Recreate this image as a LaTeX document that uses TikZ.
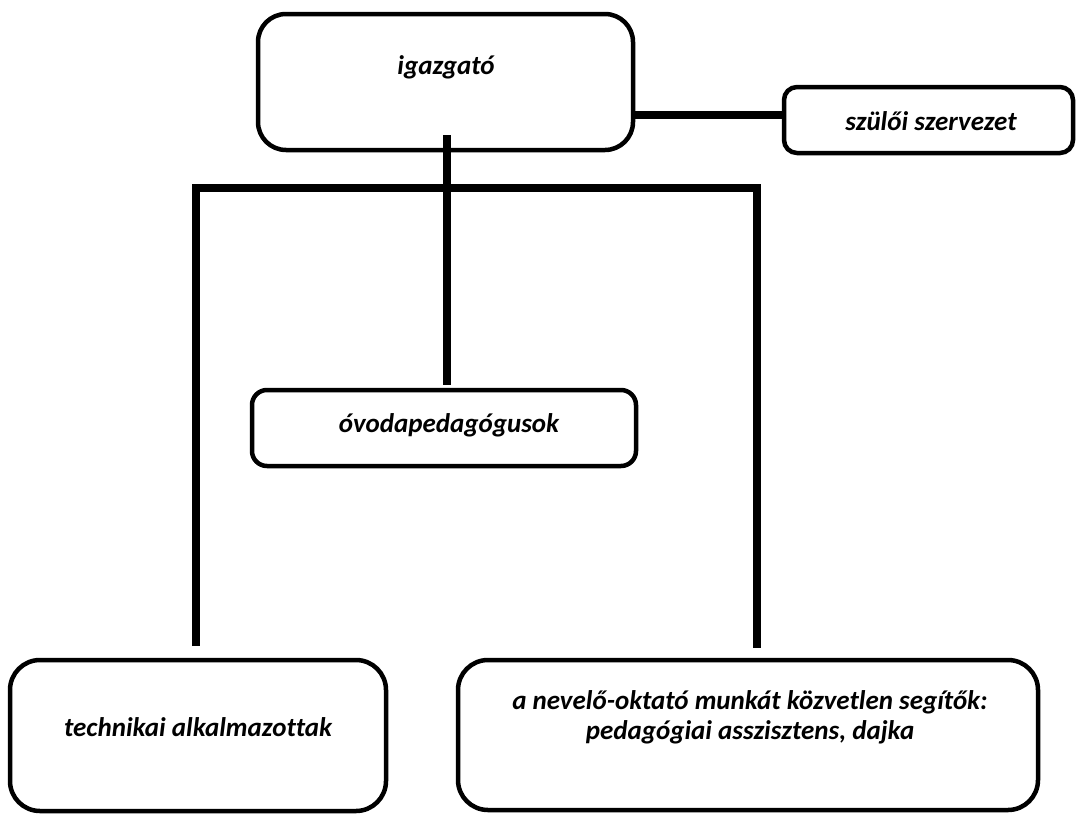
\documentclass[tikz,border=0pt]{standalone}
\usepackage{fontspec}
\setmainfont{Carlito}[Ligatures=NoCommon]
\tikzset{
  box/.style={draw=black, line width=4.5pt, fill=white, inner sep=0pt},
  lbl/.style={font=\fontsize{27}{30}\selectfont\bfseries\itshape, align=center, inner sep=0pt},
  conn/.style={draw=black, line width=7.5pt, line cap=butt, line join=miter},
}
\begin{document}
\begin{tikzpicture}[x=1pt,y=-1pt]
\useasboundingbox (0,0) rectangle (1076,814);
\coordinate (ctop) at (447,135);
\coordinate (lbar) at (196,188);
\coordinate (rbar) at (757,188);
\coordinate (lend) at (196,646);
\coordinate (rend) at (757,648);
\coordinate (cbot) at (447,385);
% boxes
\node[box, rounded corners=28pt, minimum width=375pt, minimum height=136pt] (dir) at (445.5,82) {};
\node[box, rounded corners=13pt, minimum width=289pt, minimum height=66pt] (szulo) at (928.5,120) {};
\node[box, rounded corners=15pt, minimum width=384pt, minimum height=76pt] (ovoda) at (444,428) {};
\node[box, rounded corners=30pt, minimum width=376pt, minimum height=151pt] (tech) at (198,735.5) {};
\node[box, rounded corners=30pt, minimum width=580pt, minimum height=150pt] (nev) at (748,735) {};
% connectors
\draw[conn] (dir.east |- 0,115) -- (szulo.west |- 0,115);
\draw[conn] (ctop) -- (cbot);
\draw[conn] (lend) -- (lbar) -- (rbar) -- (rend);
% labels
\node[lbl] (dirt) at (446,67) {igazgató};
\node[lbl] (szulot) at (931,121) {szülői szervezet};
\node[lbl] (ovodat) at (449,425) {óvodapedagógusok};
\node[lbl] (techt) at (198,727) {technikai alkalmazottak};
\node[lbl] (nevt) at (750,717) {a nevelő-oktató munkát közvetlen segítők:\\ pedagógiai asszisztens, dajka};
\end{tikzpicture}
\end{document}
